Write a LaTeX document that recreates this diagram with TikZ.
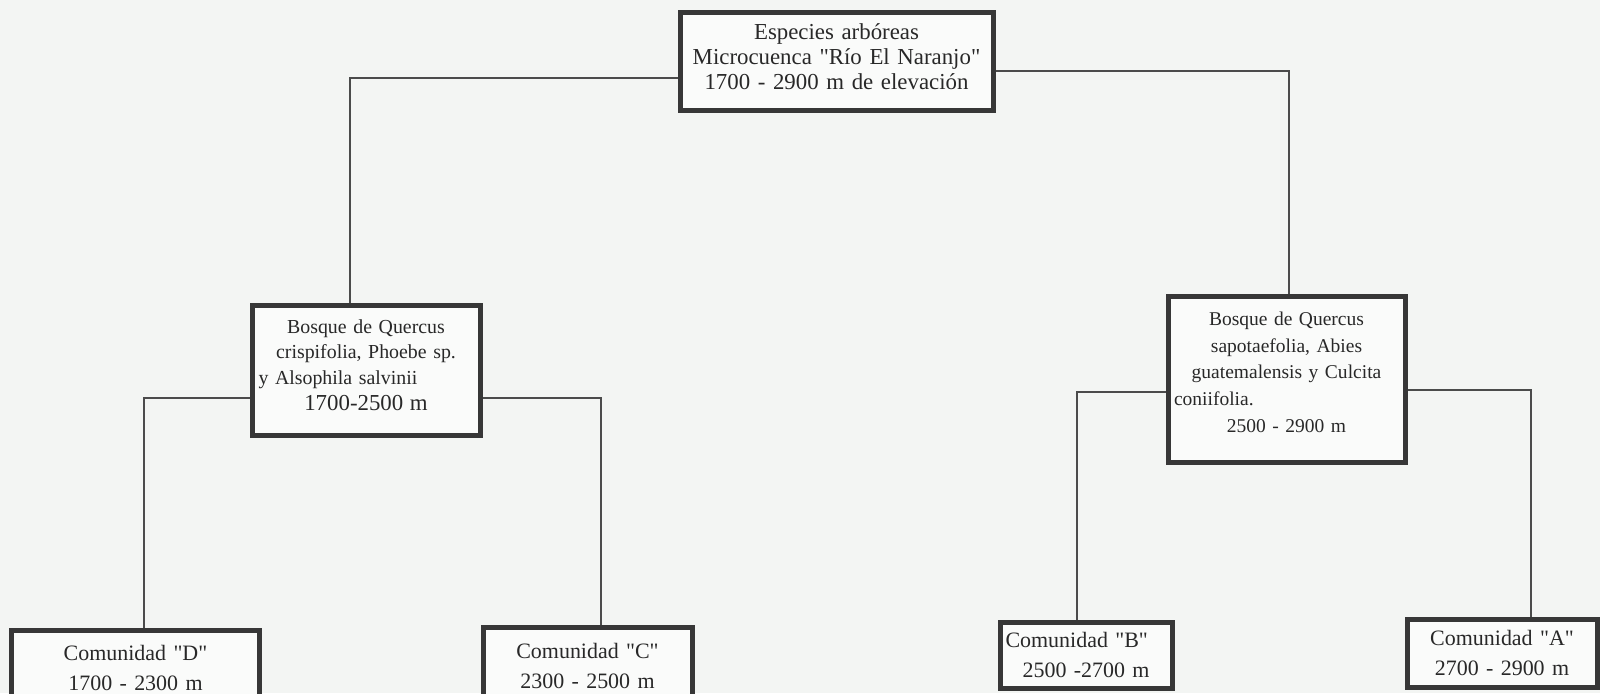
\documentclass[tikz,border=0pt]{standalone}
\usepackage{fontspec}
\setmainfont{Liberation Serif}
\usepackage{tikz}
\usetikzlibrary{arrows,shapes,positioning}

\definecolor{fondo}{RGB}{243,245,243}
\definecolor{borde}{RGB}{55,55,55}
\definecolor{linea}{RGB}{75,75,75}
\definecolor{texto}{RGB}{40,40,40}

\newcommand{\comillas}[1]{\textquotedbl#1\textquotedbl}

\tikzset{
  caja/.style={draw=borde, line width=1mm, fill=white!60!fondo, text=texto,
    inner xsep=1mm, inner ysep=0pt, align=center},
  enlace/.style={draw=linea, line width=0.4mm}
}

\begin{document}
\begin{tikzpicture}[x=0.2mm, y=-0.2mm]
      \fill[fondo] (0,0) rectangle (1600,693);
      \useasboundingbox (0,0) rectangle (1600,693);
      % top
      \node[caja, minimum width=62.6mm, minimum height=19.6mm, text width=60.4mm,
        font=\fontsize{13}{14}\selectfont] (raiz) at (836.5,61)
        {Especies arbóreas\\Microcuenca \comillas{Río El Naranjo}\\1700 - 2900 m de elevación\\[-9pt]\mbox{}};
      % middle
      \node[caja, minimum width=45.6mm, minimum height=26mm, text width=43mm,
        font=\fontsize{11.3}{14.7}\selectfont] (bql) at (366,370)
        {Bosque de Quercus\\crispifolia, Phoebe sp.\\\makebox[\linewidth][l]{y Alsophila salvinii}\\{\fontsize{13}{14.7}\selectfont 1700-2500 m}\\[-9pt]\mbox{}};
      \node[caja, minimum width=47.4mm, minimum height=33.2mm, text width=45mm,
        font=\fontsize{11.1}{15.2}\selectfont] (bqr) at (1286.5,379)
        {Bosque de Quercus\\sapotaefolia, Abies\\guatemalensis y Culcita\\\makebox[\linewidth][l]{coniifolia.}\\2500 - 2900 m\\[-7.2pt]\mbox{}};
      % bottom
      \node[caja, minimum width=49.4mm, minimum height=15.2mm, text width=47mm,
        font=\fontsize{12.5}{17}\selectfont] (comD) at (135.5,668)
        {Comunidad \comillas{D}\\1700 - 2300 m};
      \node[caja, minimum width=41.8mm, minimum height=15.6mm, text width=39.5mm,
        font=\fontsize{12.5}{17}\selectfont] (comC) at (587.5,666)
        {Comunidad \comillas{C}\\2300 - 2500 m};
      \node[caja, minimum width=34.4mm, minimum height=13.2mm, text width=32.2mm,
        inner xsep=0.6mm, font=\fontsize{12.5}{17}\selectfont] (comB) at (1086,655)
        {\makebox[\linewidth][l]{Comunidad \comillas{B}}\\2500 -2700 m};
      \node[caja, minimum width=38mm, minimum height=13.6mm, text width=35.8mm,
        font=\fontsize{12.5}{17}\selectfont] (comA) at (1502,653)
        {Comunidad \comillas{A}\\2700 - 2900 m};
      % connectors
      \draw[enlace] ([yshift=-3.4mm]raiz.west) -| ([xshift=-3.2mm]bql.north);
      \draw[enlace] ([yshift=-2.0mm]raiz.east) -| ([xshift=0.5mm]bqr.north);
      \draw[enlace] ([yshift=-5.6mm]bql.west) -| ([xshift=1.7mm]comD.north);
      \draw[enlace] ([yshift=-5.6mm]bql.east) -| ([xshift=2.7mm]comC.north);
      \draw[enlace] ([yshift=-2.6mm]bqr.west) -| ([xshift=-1.8mm]comB.north);
      \draw[enlace] ([yshift=-2.2mm]bqr.east) -| ([xshift=5.8mm]comA.north);
    \end{tikzpicture}
\end{document}
